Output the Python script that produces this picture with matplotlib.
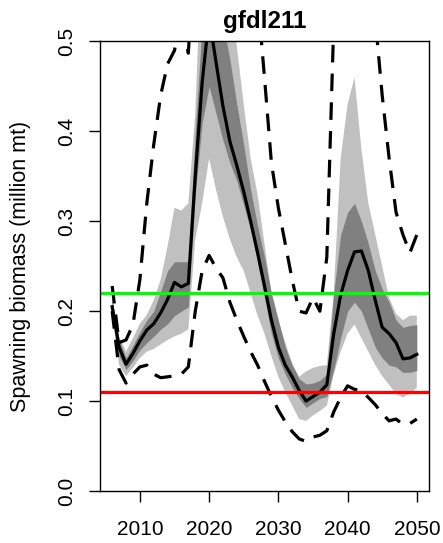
# Spawning biomass projection, gfdl211 scenario
import matplotlib
matplotlib.use("Agg")
import matplotlib.pyplot as plt
import numpy as np

plt.rcParams['font.family'] = ['Liberation Sans', 'DejaVu Sans']

# ---------------------------------------------------------------------------- #
# DATA

years = np.arange(2006, 2051)

median = [0.205, 0.160, 0.141, 0.153, 0.167, 0.179, 0.186, 0.198, 0.213, 0.232,
          0.227, 0.231, 0.350, 0.455, 0.527, 0.477, 0.428, 0.389, 0.362, 0.333,
          0.300, 0.265, 0.228, 0.190, 0.160, 0.140, 0.127, 0.112, 0.100, 0.105,
          0.110, 0.118, 0.175, 0.218, 0.245, 0.266, 0.267, 0.245, 0.212, 0.182,
          0.175, 0.165, 0.147, 0.148, 0.152]

inner_lo = [0.198, 0.150, 0.135, 0.145, 0.157, 0.165, 0.172, 0.180, 0.186, 0.195,
            0.200, 0.205, 0.330, 0.410, 0.450, 0.420, 0.390, 0.365, 0.345, 0.318,
            0.290, 0.255, 0.215, 0.175, 0.148, 0.130, 0.115, 0.103, 0.093, 0.098,
            0.103, 0.105, 0.135, 0.170, 0.200, 0.210, 0.200, 0.180, 0.160, 0.148,
            0.140, 0.138, 0.132, 0.132, 0.134]
inner_hi = [0.212, 0.168, 0.148, 0.162, 0.177, 0.190, 0.200, 0.222, 0.245, 0.255,
            0.255, 0.255, 0.400, 0.520, 0.620, 0.560, 0.520, 0.480, 0.430, 0.385,
            0.335, 0.295, 0.260, 0.220, 0.190, 0.160, 0.140, 0.125, 0.119, 0.120,
            0.123, 0.130, 0.220, 0.285, 0.310, 0.320, 0.300, 0.275, 0.245, 0.225,
            0.210, 0.190, 0.182, 0.184, 0.185]

outer_lo = [0.195, 0.140, 0.128, 0.137, 0.148, 0.155, 0.158, 0.163, 0.168, 0.172,
            0.175, 0.180, 0.280, 0.320, 0.370, 0.335, 0.305, 0.280, 0.260, 0.245,
            0.220, 0.195, 0.175, 0.150, 0.127, 0.110, 0.095, 0.080, 0.078, 0.084,
            0.089, 0.095, 0.130, 0.155, 0.175, 0.185, 0.170, 0.155, 0.140, 0.128,
            0.118, 0.108, 0.104, 0.108, 0.115]
outer_hi = [0.215, 0.172, 0.155, 0.170, 0.186, 0.196, 0.212, 0.235, 0.272, 0.315,
            0.312, 0.320, 0.420, 0.620, 0.700, 0.620, 0.580, 0.540, 0.495, 0.430,
            0.370, 0.330, 0.275, 0.220, 0.190, 0.165, 0.142, 0.127, 0.133, 0.137,
            0.139, 0.140, 0.220, 0.370, 0.430, 0.460, 0.380, 0.320, 0.285, 0.250,
            0.215, 0.197, 0.190, 0.195, 0.195]

dash_hi = [0.228, 0.165, 0.168, 0.185, 0.235, 0.320, 0.385, 0.440, 0.475, 0.490,
           0.530, 0.487, 0.620, 0.720, 0.800, 0.820, 0.800, 0.750, 0.700, 0.650,
           0.600, 0.550, 0.460, 0.365, 0.315, 0.275, 0.235, 0.200, 0.198, 0.215,
           0.200, 0.260, 0.520, 0.620, 0.700, 0.720, 0.680, 0.600, 0.525, 0.440,
           0.370, 0.310, 0.285, 0.265, 0.285]
dash_lo = [0.200, 0.135, 0.120, 0.130, 0.138, 0.140, 0.130, 0.126, 0.127, 0.128,
           0.130, 0.138, 0.200, 0.245, 0.262, 0.248, 0.237, 0.210, 0.190, 0.172,
           0.155, 0.140, 0.122, 0.105, 0.090, 0.077, 0.066, 0.058, 0.055, 0.060,
           0.062, 0.067, 0.088, 0.104, 0.117, 0.113, 0.112, 0.104, 0.096, 0.086,
           0.078, 0.080, 0.074, 0.075, 0.080]

target = 0.22   # green reference line
limit = 0.11    # red reference line

# ---------------------------------------------------------------------------- #
# PLOT

fig = plt.figure(figsize=(4.43, 5.43), dpi=100)
ax = fig.add_axes([0.2257, 0.0958, 0.7427, 0.8278])

ax.fill_between(years, outer_lo, outer_hi, color='#c0c0c0', lw=0)
ax.fill_between(years, inner_lo, inner_hi, color='#808080', lw=0)
ax.plot(years, median, color='black', lw=2.3)
for d in (dash_hi, dash_lo):
    ax.plot(years, d, color='black', lw=2.3, dashes=(5.5, 3.5))
ax.axhline(target, color='#00ff00', lw=2.3)
ax.axhline(limit, color='#ff0000', lw=2.3)

span = years[-1] - years[0]
ax.set_xlim(years[0] - 0.04 * span, years[-1] + 0.04 * span)
ax.set_ylim(0, 0.5)
ax.set_xticks([2010, 2020, 2030, 2040, 2050])
ax.set_yticks([0.0, 0.1, 0.2, 0.3, 0.4, 0.5])
ax.set_yticklabels(['0.0', '0.1', '0.2', '0.3', '0.4', '0.5'],
                   rotation=90, va='center')
ax.tick_params(axis='both', direction='out', length=8, width=1, labelsize=15)
ax.tick_params(axis='x', pad=13)
ax.tick_params(axis='y', pad=9)
for s in ax.spines.values():
    s.set_linewidth(1)

ax.set_title('gfdl211', fontweight='bold', fontsize=17.5, pad=9.5)
ax.set_ylabel('Spawning biomass (million mt)', fontsize=15.5)
ax.yaxis.set_label_coords(-0.21, 0.5)

fig.savefig('out.png', dpi=100)
